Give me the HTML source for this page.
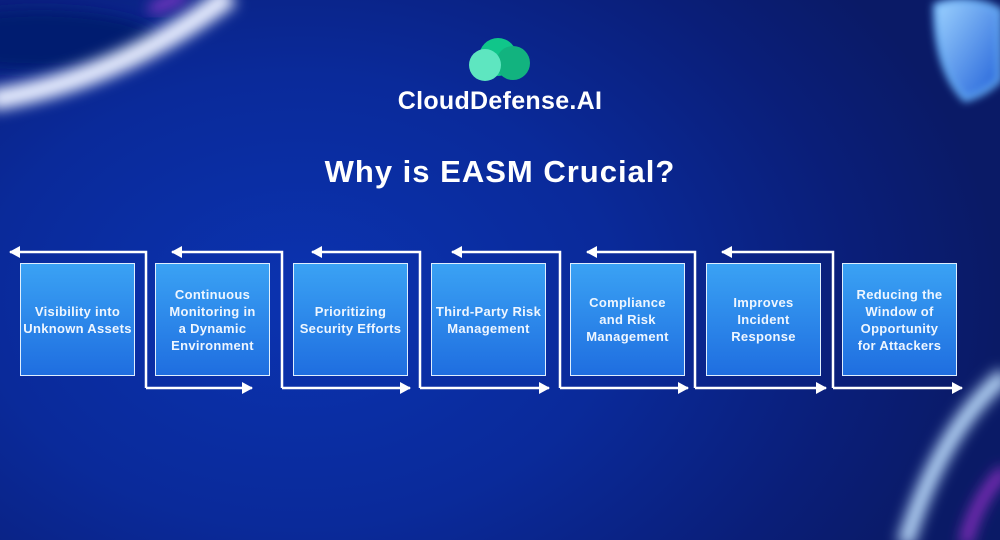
<!DOCTYPE html>
<html><head><meta charset="utf-8"><style>
html,body{margin:0;padding:0}
body{width:1000px;height:540px;overflow:hidden;position:relative;font-family:"Liberation Sans",sans-serif;
background:radial-gradient(ellipse 700px 500px at 300px 300px,#0b33b0 0%,#0a2a9a 45%,#0a1e78 80%,#0a1a66 100%);}
.box{position:absolute;top:263px;width:115px;height:113px;border:1px solid #dfefff;box-sizing:border-box;
background:linear-gradient(#3aa2f4,#1f6ee0);color:#eef6ff;font-weight:bold;font-size:13px;line-height:17px;letter-spacing:0.3px;
display:flex;align-items:center;justify-content:center;text-align:center;white-space:nowrap}
svg{position:absolute;left:0;top:0}
.logo{position:absolute;left:0;width:1000px;top:87px;text-align:center;color:#fff;font-weight:bold;font-size:25px;letter-spacing:0.3px}
.title{position:absolute;left:0;width:1000px;top:154px;text-align:center;color:#fff;font-weight:bold;font-size:31px;letter-spacing:1px}
</style></head><body>
<svg width="1000" height="540">
<defs>
<filter id="b" x="-50%" y="-50%" width="200%" height="200%"><feGaussianBlur stdDeviation="7"/></filter>
<filter id="b2" x="-50%" y="-50%" width="200%" height="200%"><feGaussianBlur stdDeviation="4"/></filter>
<marker id="ar" markerWidth="12" markerHeight="12" refX="10" refY="6" orient="auto" markerUnits="userSpaceOnUse">
<path d="M0,0 L11,6 L0,12 Z" fill="#fff"/></marker>
<linearGradient id="sh" x1="0" y1="0" x2="1" y2="1"><stop offset="0" stop-color="#9fd4ff"/><stop offset="1" stop-color="#1f5fd8"/></linearGradient>
</defs>
<ellipse cx="40" cy="40" rx="120" ry="30" fill="#061a70" filter="url(#b)"/>
<path d="M-10,100 Q120,80 230,-5" stroke="#e8eeff" stroke-width="22" fill="none" filter="url(#b)"/>
<path d="M150,10 Q175,0 185,-5" stroke="#b040e0" stroke-width="8" fill="none" filter="url(#b)"/>
<path d="M905,545 Q940,430 1005,375" stroke="#bfe0ff" stroke-width="16" fill="none" filter="url(#b)"/>
<path d="M965,545 Q975,500 1005,470" stroke="#a030d0" stroke-width="10" fill="none" filter="url(#b)"/>
<path d="M935,5 Q960,-5 990,5 L1000,10 L1000,80 Q985,95 965,100 Q935,70 935,5Z" fill="url(#sh)" stroke="#6ab8ff" stroke-width="4" filter="url(#b2)"/>
<circle cx="498" cy="57" r="19" fill="#10c68a"/>
<circle cx="513" cy="63" r="17" fill="#12b37f"/>
<circle cx="485" cy="65" r="16" fill="#5ee6c0"/>
<g stroke="#fff" stroke-width="2.5" fill="none" marker-end="url(#ar)">
<path d="M146,388 V252 H10"/><path d="M146,388 H252"/>
<path d="M282,388 V252 H172"/><path d="M282,388 H410"/>
<path d="M420,388 V252 H312"/><path d="M420,388 H549"/>
<path d="M560,388 V252 H452"/><path d="M560,388 H688"/>
<path d="M695,388 V252 H587"/><path d="M695,388 H826"/>
<path d="M833,388 V252 H722"/><path d="M833,388 H962"/>
</g>
</svg>
<div class="logo">CloudDefense.AI</div>
<div class="title">Why is EASM Crucial?</div>
<div class="box" style="left:20px">Visibility into<br>Unknown Assets</div>
<div class="box" style="left:155px">Continuous<br>Monitoring in<br>a Dynamic<br>Environment</div>
<div class="box" style="left:293px">Prioritizing<br>Security Efforts</div>
<div class="box" style="left:431px">Third-Party Risk<br>Management</div>
<div class="box" style="left:570px">Compliance<br>and Risk<br>Management</div>
<div class="box" style="left:706px">Improves<br>Incident<br>Response</div>
<div class="box" style="left:842px">Reducing the<br>Window of<br>Opportunity<br>for Attackers</div>
</body></html>
